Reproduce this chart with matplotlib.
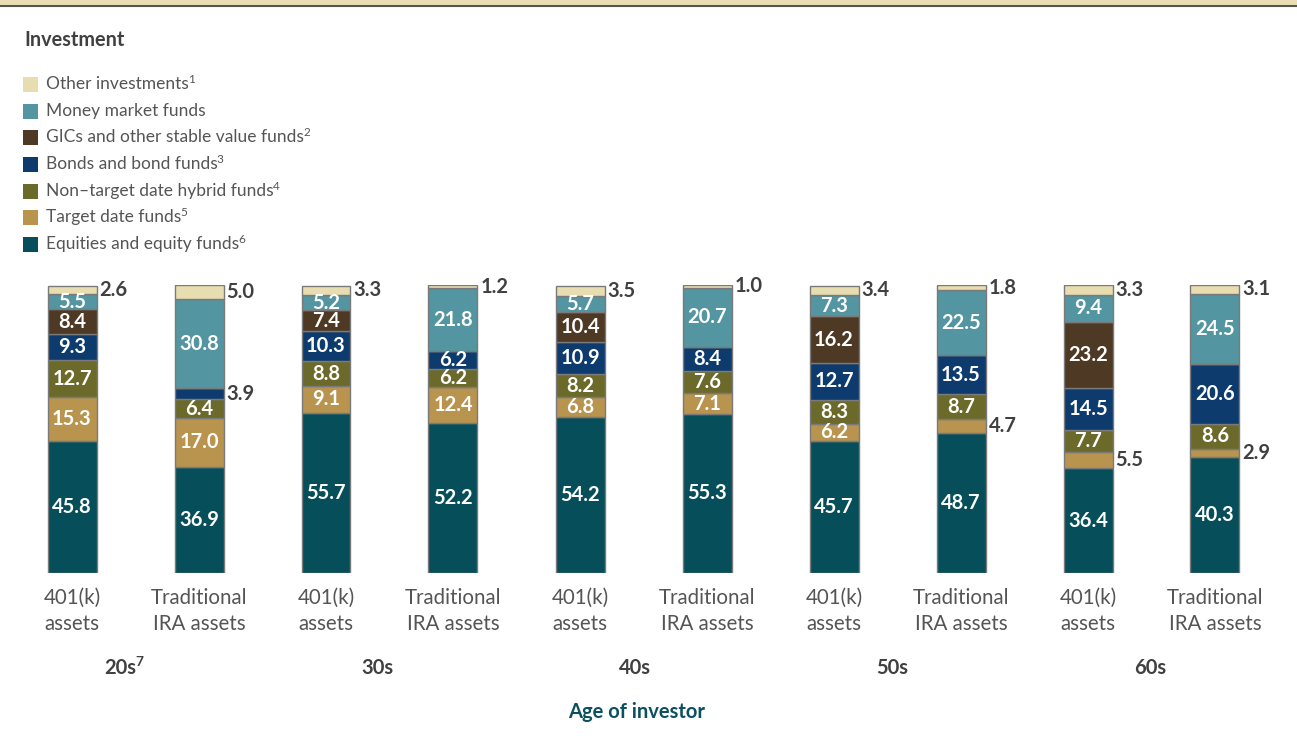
import matplotlib
matplotlib.use("Agg")
import matplotlib.pyplot as plt
from matplotlib.patches import Rectangle
from matplotlib.transforms import blended_transform_factory
import numpy as np

plt.rcParams['font.family'] = ['Lato', 'DejaVu Sans']

# ---- data ----
categories = ["Equities and equity funds", "Target date funds", "Non–target date hybrid funds",
              "Bonds and bond funds", "GICs and other stable value funds", "Money market funds",
              "Other investments"]
category_notes = ["6", "5", "4", "3", "2", "", "1"]
bar_labels = ["401(k)\nassets", "Traditional\nIRA assets"] * 5
age_groups = ["20s", "30s", "40s", "50s", "60s"]
age_notes = ["7", "", "", "", ""]

equities   = [45.8, 36.9, 55.7, 52.2, 54.2, 55.3, 45.7, 48.7, 36.4, 40.3]
target     = [15.3, 17.0, 9.1, 12.4, 6.8, 7.1, 6.2, 4.7, 5.5, 2.9]
nontarget  = [12.7, 6.4, 8.8, 6.2, 8.2, 7.6, 8.3, 8.7, 7.7, 8.6]
bonds      = [9.3, 3.9, 10.3, 6.2, 10.9, 8.4, 12.7, 13.5, 14.5, 20.6]
gics       = [8.4, 0.0, 7.4, 0.0, 10.4, 0.0, 16.2, 0.0, 23.2, 0.0]
moneymkt   = [5.5, 30.8, 5.2, 21.8, 5.7, 20.7, 7.3, 22.5, 9.4, 24.5]
other      = [2.6, 5.0, 3.3, 1.2, 3.5, 1.0, 3.4, 1.8, 3.3, 3.1]

series = [equities, target, nontarget, bonds, gics, moneymkt, other]
colors = ["#064f5a", "#b8944f", "#6b6a2a", "#0d3b6e", "#4e3924", "#5395a0", "#e8ddb0"]

W, H = 1297, 745
fig = plt.figure(figsize=(W / 100, H / 100), dpi=100)
fig.patch.set_facecolor("white")

# top band
fig.add_artist(Rectangle((0, 1 - 5 / H), 1, 5 / H, transform=fig.transFigure,
                         facecolor="#e9dfb3", edgecolor="none"))
fig.add_artist(plt.Line2D([0, 1], [1 - 5.5 / H, 1 - 5.5 / H], transform=fig.transFigure,
                          color="#555555", lw=1.5))

# axes geometry
y0_px, y1_px = 573, 285
ax = fig.add_axes([0, (H - y0_px) / H, 1, (y0_px - y1_px) / H])
x0_px, step_px = 72, 127
x = np.arange(len(equities))
ax.set_xlim(-x0_px / step_px, (W - x0_px) / step_px)
ax.set_ylim(0, 100)
ax.axis("off")

bw = 49 / step_px
bottom = np.zeros(len(x))
for ci, (vals, col) in enumerate(zip(series, colors)):
    vals = np.array(vals)
    ax.bar(x, vals, bw, bottom=bottom, color=col, edgecolor="#7a7a7a", linewidth=1.0, zorder=2)
    for i, v in enumerate(vals):
        if v <= 0:
            continue
        yc = bottom[i] + v / 2
        outside = v < 6 and ci != 5
        if outside:
            ax.text(x[i] + bw / 2 + 0.025, yc, f"{v:.1f}", ha="left", va="center",
                    fontsize=14.5, fontweight="bold", color="#404040", zorder=3)
        else:
            ax.text(x[i], yc, f"{v:.1f}", ha="center", va="center",
                    fontsize=14.5, fontweight="bold", color="white", zorder=3)
    bottom += vals

trans = blended_transform_factory(ax.transData, ax.transAxes)
def ay(py):
    return (y0_px - py) / (y0_px - y1_px)

for i, lab in enumerate(bar_labels):
    ax.text(x[i], ay(611), lab, transform=trans, ha="center", va="center",
            fontsize=14.8, color="#555555", linespacing=1.38)

def add_sup(base, note, size, color, weight="normal", dy=2.0):
    if note:
        ax.annotate(note, xy=(1, 1), xycoords=base, xytext=(-0.6, dy), textcoords="offset points",
                    ha="left", va="top", fontsize=size, color=color, fontweight=weight,
                    annotation_clip=False)

for g, lab in enumerate(age_groups):
    t = ax.text(0.38 + 2.027 * g, ay(668), lab, transform=trans, ha="center", va="center",
                fontsize=14.5, fontweight="bold", color="#404040")
    add_sup(t, age_notes[g], 10, "#404040", "bold", dy=1.6)

fig.text(637 / W, 1 - 712 / H, "Age of investor", ha="center", va="center",
         fontsize=14.5, fontweight="bold", color="#0b5060")

# legend
fig.text(24 / W, 1 - 40 / H, "Investment", ha="left", va="center",
         fontsize=14.3, fontweight="bold", color="#404040")
leg_y = [84, 111, 137, 164, 191, 217, 244]
for k, ci in enumerate(range(6, -1, -1)):
    yc = leg_y[k]
    fig.add_artist(Rectangle((23 / W, 1 - (yc + 7.5) / H), 15 / W, 15 / H,
                             transform=fig.transFigure, facecolor=colors[ci], edgecolor="none"))
    t = fig.text(46 / W, 1 - yc / H, categories[ci], ha="left", va="center",
                 fontsize=12.5, color="#555555")
    add_sup(t, category_notes[ci], 8.5, "#555555", dy=1.5)

fig.savefig("out.png", dpi=100)
